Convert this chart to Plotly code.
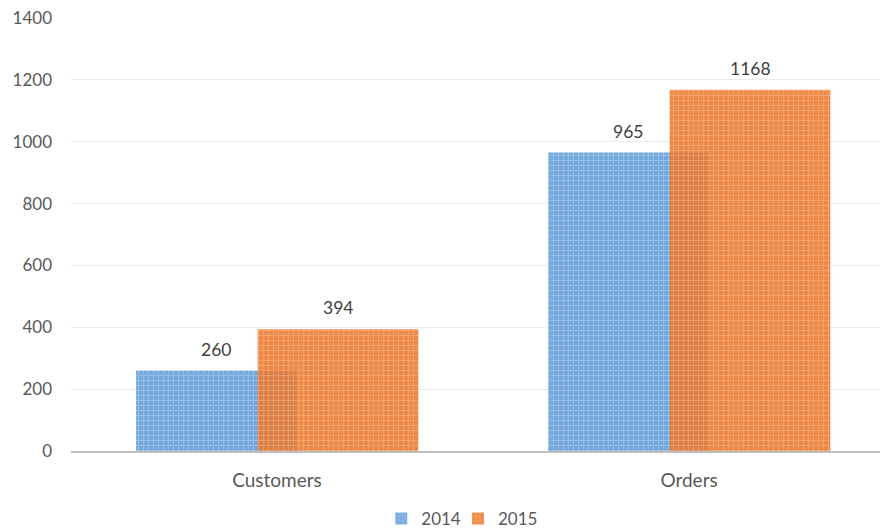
import plotly.graph_objects as go

categories = ["Customers", "Orders"]
series_names = ["2014", "2015"]
values_2014 = [260, 965]
values_2015 = [394, 1168]
y_ticks = [0, 200, 400, 600, 800, 1000, 1200, 1400]

FONT = "Lato, 'Open Sans', sans-serif"
TXT = "#595959"

bar_w = 0.39
off_2014 = -0.342
off_2015 = -0.047

fig = go.Figure()
fig.add_trace(go.Bar(
    x=categories, y=values_2014, name=series_names[0],
    width=bar_w, offset=off_2014, legend="legend",
    marker=dict(color="#78ACDF", line=dict(width=0),
                pattern=dict(shape="+", fgcolor="#B8D3EF", bgcolor="#74A9DE", size=5, solidity=0.35)),
))
# 2015 drawn on top, slightly see-through in the overlap
fig.add_trace(go.Bar(
    x=categories, y=values_2015, name=series_names[1],
    width=bar_w, offset=off_2015, opacity=0.88, legend="legend2",
    marker=dict(color="#EE7F36", line=dict(width=0),
                pattern=dict(shape="+", fgcolor="#F6B286", bgcolor="#EC7A2E", size=5, solidity=0.35)),
))

annotations = []
for i, (a, b) in enumerate(zip(values_2014, values_2015)):
    annotations.append(dict(x=i + off_2014 + bar_w / 2, y=a, xref="x", yref="y", text=str(a),
                            showarrow=False, yanchor="bottom", yshift=9,
                            font=dict(family=FONT, size=17.5, color="#404040")))
    annotations.append(dict(x=i + off_2015 + bar_w / 2, y=b, xref="x", yref="y", text=str(b),
                            showarrow=False, yanchor="bottom", yshift=9,
                            font=dict(family=FONT, size=17.5, color="#404040")))

legend_style = dict(orientation="h", xanchor="left", y=-0.157, yanchor="middle",
                    font=dict(family=FONT, size=17, color=TXT), itemwidth=30,
                    bgcolor="rgba(0,0,0,0)")

# the page body has an 8px margin, so the figure is sized/margined to compensate
fig.update_layout(
    width=880, height=522,
    barmode="overlay",
    plot_bgcolor="white", paper_bgcolor="white",
    margin=dict(l=63, r=2, t=10, b=79, autoexpand=False),
    font=dict(family=FONT, size=17, color=TXT),
    annotations=annotations,
    showlegend=True,
    legend=dict(x=0.3807, **legend_style),
    legend2=dict(x=0.4748, **legend_style),
    xaxis=dict(type="category", range=[-0.5, 1.478], showgrid=False,
               showline=True, linecolor="#BFBFBF", linewidth=2,
               ticks="", tickfont=dict(family=FONT, size=19, color=TXT),
               ticklabelstandoff=11, zeroline=False, automargin=False),
    yaxis=dict(range=[0, 1400], tickvals=y_ticks, showgrid=True, gridcolor="#EBEBEB", gridwidth=1,
               zeroline=False, showline=False, ticks="", automargin=False,
               ticklabeloverflow="allow",
               tickfont=dict(family=FONT, size=17, color=TXT), ticklabelstandoff=18),
)

fig.write_html("out.html")
